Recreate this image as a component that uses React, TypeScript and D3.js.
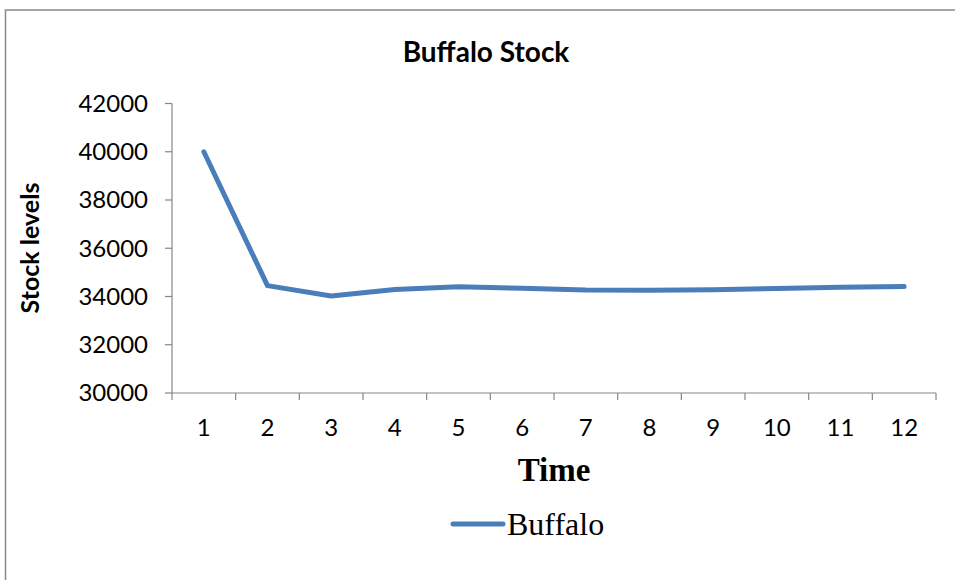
import React from "react";
import * as d3 from "d3";

const categories = ["1", "2", "3", "4", "5", "6", "7", "8", "9", "10", "11", "12"];
const buffalo = [40000, 34450, 34020, 34290, 34400, 34340, 34270, 34260, 34280, 34330, 34380, 34410];
const yTicks = [30000, 32000, 34000, 36000, 38000, 40000, 42000];
const title = "Buffalo Stock";
const xTitle = "Time";
const yTitle = "Stock levels";
const seriesName = "Buffalo";

export default function App() {
  const W = 955, H = 580;
  const left = 172, right = 936, top = 103.5, bottom = 393;
  const x = d3.scaleBand<string>().domain(categories).range([left, right]);
  const y = d3.scaleLinear().domain([30000, 42000]).range([bottom, top]);
  const line = d3
    .line<number>()
    .x((_, i) => (x(categories[i]) as number) + x.bandwidth() / 2)
    .y((d) => y(d));
  const axisColor = "#868686";
  const blue = "#4a7ebb";
  const sans = "Lato, 'Open Sans', sans-serif";
  const serif = "'Liberation Serif', 'Times New Roman', serif";
  const boundaries = [...categories.map((c) => x(c) as number), right];
  return (
    <svg width={W} height={H} style={{ position: "fixed", left: 0, top: 0, background: "#fff" }}>
      <rect x={0} y={0} width={W} height={H} fill="#fff" />
      <path d={`M5.5,${H} L5.5,10 L${W},10`} fill="none" stroke="#8a8a8a" strokeWidth={1.5} />
      <text x={486} y={52} dy="0.35em" textAnchor="middle" fontFamily={sans} fontWeight="bold" fontSize={28} fill="#000">
        {title}
      </text>
      {/* y axis */}
      <line x1={left} x2={left} y1={top} y2={bottom} stroke={axisColor} strokeWidth={1.2} />
      {yTicks.map((t) => (
        <g key={t}>
          <line x1={left - 7} x2={left} y1={y(t)} y2={y(t)} stroke={axisColor} strokeWidth={1.2} />
          <text x={148} y={y(t)} dy="0.35em" textAnchor="end" fontFamily={sans} fontSize={24} fill="#000">
            {t}
          </text>
        </g>
      ))}
      {/* x axis */}
      <line x1={left} x2={right} y1={bottom} y2={bottom} stroke={axisColor} strokeWidth={1.2} />
      {boundaries.map((b, i) => (
        <line key={i} x1={b} x2={b} y1={bottom} y2={bottom + 7} stroke={axisColor} strokeWidth={1.2} />
      ))}
      {categories.map((c) => (
        <text key={c} x={(x(c) as number) + x.bandwidth() / 2} y={428} dy="0.35em" textAnchor="middle" fontFamily={sans} fontSize={24} fill="#000">
          {c}
        </text>
      ))}
      <text x={554} y={469} dy="0.35em" textAnchor="middle" fontFamily={serif} fontWeight="bold" fontSize={33} fill="#000">
        {xTitle}
      </text>
      <text transform={`translate(30,248) rotate(-90)`} textAnchor="middle" dy="0.35em" fontFamily={sans} fontWeight="bold" fontSize={25} fill="#000">
        {yTitle}
      </text>
      <path d={line(buffalo) || ""} fill="none" stroke={blue} strokeWidth={5} strokeLinejoin="round" strokeLinecap="round" />
      {/* legend */}
      <line x1={453} x2={503} y1={524} y2={524} stroke={blue} strokeWidth={5} strokeLinecap="round" />
      <text x={507} y={524} dy="0.35em" fontFamily={serif} fontSize={32} fill="#000">
        {seriesName}
      </text>
    </svg>
  );
}
